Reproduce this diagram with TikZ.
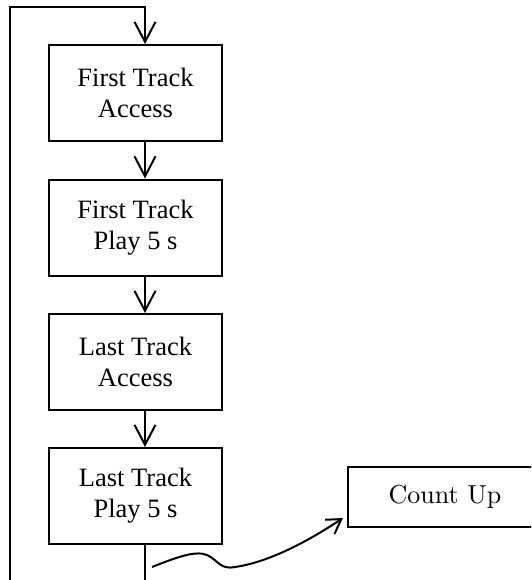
\documentclass[tikz,border=0pt]{standalone}
\usepackage{fontspec}
\newfontfamily\timesfont{Liberation Serif}
\newfontfamily\cufont{lmroman10-regular}[Extension=.otf]
\usetikzlibrary{arrows.meta}
\tikzset{
  stepbox/.style={draw, line width=2pt, minimum width=173pt, minimum height=96pt, inner sep=0pt, align=center, font=\timesfont\fontsize{26.5}{31}\selectfont},
  countbox/.style={draw, line width=2pt, minimum width=194pt, minimum height=60pt, inner sep=0pt, align=center, font=\cufont\fontsize{26}{31}\selectfont},
  conn/.style={line width=2pt},
  flowarrow/.style={conn, -{Straight Barb[length=20pt,width=21pt]}},
  wavyarrow/.style={conn, -{Straight Barb[length=14pt,width=17pt]}}
}
\begin{document}
\begin{tikzpicture}[x=1pt,y=-1pt]
\useasboundingbox (0,0) rectangle (531,580);
\clip (0,0) rectangle (531,580);
\node[stepbox] (b1) at (135.5,93) {First Track\\Access};
\node[stepbox] (b2) at (135.5,227.5) {First Track\\Play 5 s};
\node[stepbox] (b3) at (135.5,362) {Last Track\\Access};
\node[stepbox] (b4) at (135.5,496) {Last Track\\Play 5 s};
\node[countbox] (cu) at (445,497) {Count Up};
\coordinate (ax) at (145,0);
\coordinate (tl) at (10,7);
\coordinate (tr) at (145,7);
\coordinate (lb) at (10,585);
\coordinate (rb) at (145,585);
\coordinate (w0) at (152,567);
\coordinate (w1) at (207,555);
\coordinate (w2) at (235,567);
\coordinate (w3) at (343,518);
\draw[flowarrow] (lb) -- (tl) -- (tr) -- (b1.north -| ax);
\draw[flowarrow] (b1.south -| ax) -- (b2.north -| ax);
\draw[flowarrow] (b2.south -| ax) -- (b3.north -| ax);
\draw[flowarrow] (b3.south -| ax) -- (b4.north -| ax);
\draw[conn] (b4.south -| ax) -- (rb);
\draw[wavyarrow] (w0) .. controls (175,558) and (195,550) .. (w1) .. controls (218,560) and (220,570) .. (w2) .. controls (270,562) and (310,540) .. (w3);
\end{tikzpicture}
\end{document}
